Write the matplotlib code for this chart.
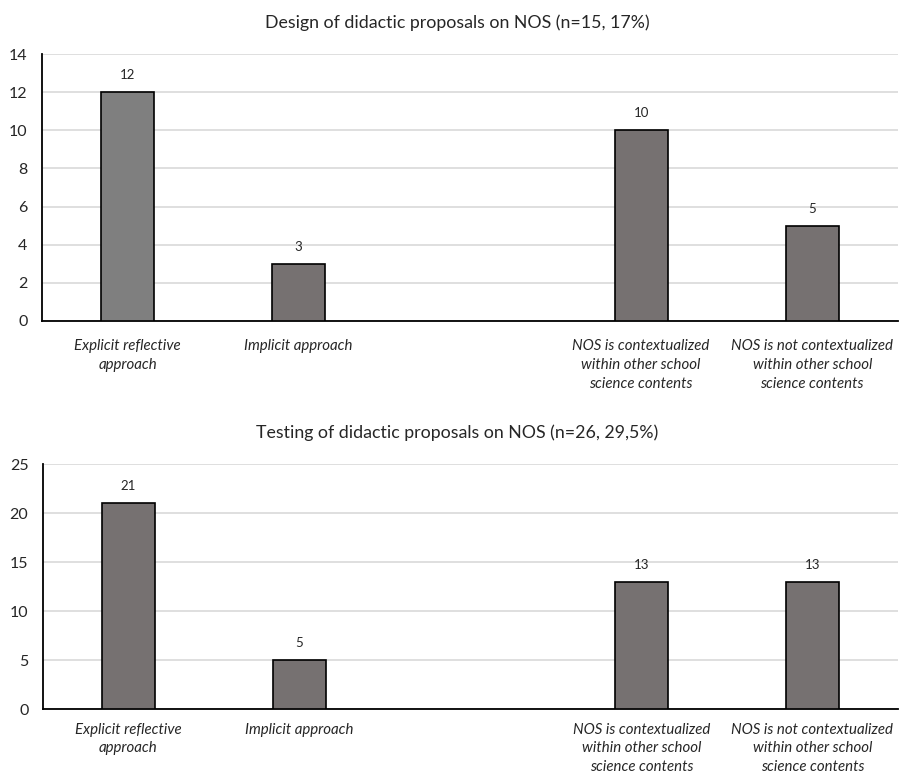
import matplotlib
matplotlib.use('Agg')
import matplotlib.pyplot as plt

categories = ["Explicit reflective\napproach",
              "Implicit approach",
              "",
              "NOS is contextualized\nwithin other school\nscience contents",
              "NOS is not contextualized\nwithin other school\nscience contents"]
slots = [0, 1, 3, 4]
design_counts = [12, 3, 10, 5]
testing_counts = [21, 5, 13, 13]
design_title = "Design of didactic proposals on NOS (n=15, 17%)"
testing_title = "Testing of didactic proposals on NOS (n=26, 29,5%)"

plt.rcParams['font.family'] = ['Lato', 'DejaVu Sans']

GRID = '#d9d9d9'


def draw_panel(ax, values, colors, title, ymax, step, label_pad=13,
               spacing=1.45):
    bars = ax.bar(slots, values, width=0.31, color=colors,
                  edgecolor='black', linewidth=1.2, zorder=3)
    for b, v in zip(bars, values):
        ax.annotate(str(v), (b.get_x() + b.get_width() / 2, v),
                    xytext=(0, 8), textcoords='offset points',
                    ha='center', va='bottom', fontsize=9.5, color='#262626')
    ax.set_xlim(-0.5, 4.5)
    ax.set_ylim(0, ymax)
    ax.set_yticks(range(0, ymax + 1, step))
    ax.yaxis.grid(True, color=GRID, linewidth=1.2, zorder=0)
    ax.set_axisbelow(True)
    ax.set_xticks(range(len(categories)))
    ax.set_xticklabels(categories, fontsize=10.8, style='italic',
                       linespacing=spacing, va='top', color='#262626')
    ax.tick_params(axis='x', length=0, pad=label_pad)
    ax.tick_params(axis='y', length=0, pad=10.5, labelsize=11.5,
                   labelcolor='#262626')
    for side in ('top', 'right'):
        ax.spines[side].set_visible(False)
    ax.spines['left'].set_linewidth(1.3)
    ax.spines['bottom'].set_linewidth(1.3)
    ax.set_title(title, fontsize=12.8, color='#262626', pad=19, x=0.485)


fig = plt.figure(figsize=(8.99, 7.77), dpi=100)
ax1 = fig.add_axes([0.0467, 0.5869, 0.952, 0.3436])
ax2 = fig.add_axes([0.0478, 0.0875, 0.951, 0.3153])

draw_panel(ax1, design_counts, ['#7f7f7f', '#767171', '#767171', '#767171'],
           design_title, 14, 2)
draw_panel(ax2, testing_counts, '#767171', testing_title, 25, 5,
           label_pad=10, spacing=1.4)

fig.savefig('out.png', dpi=100)
plt.close(fig)
